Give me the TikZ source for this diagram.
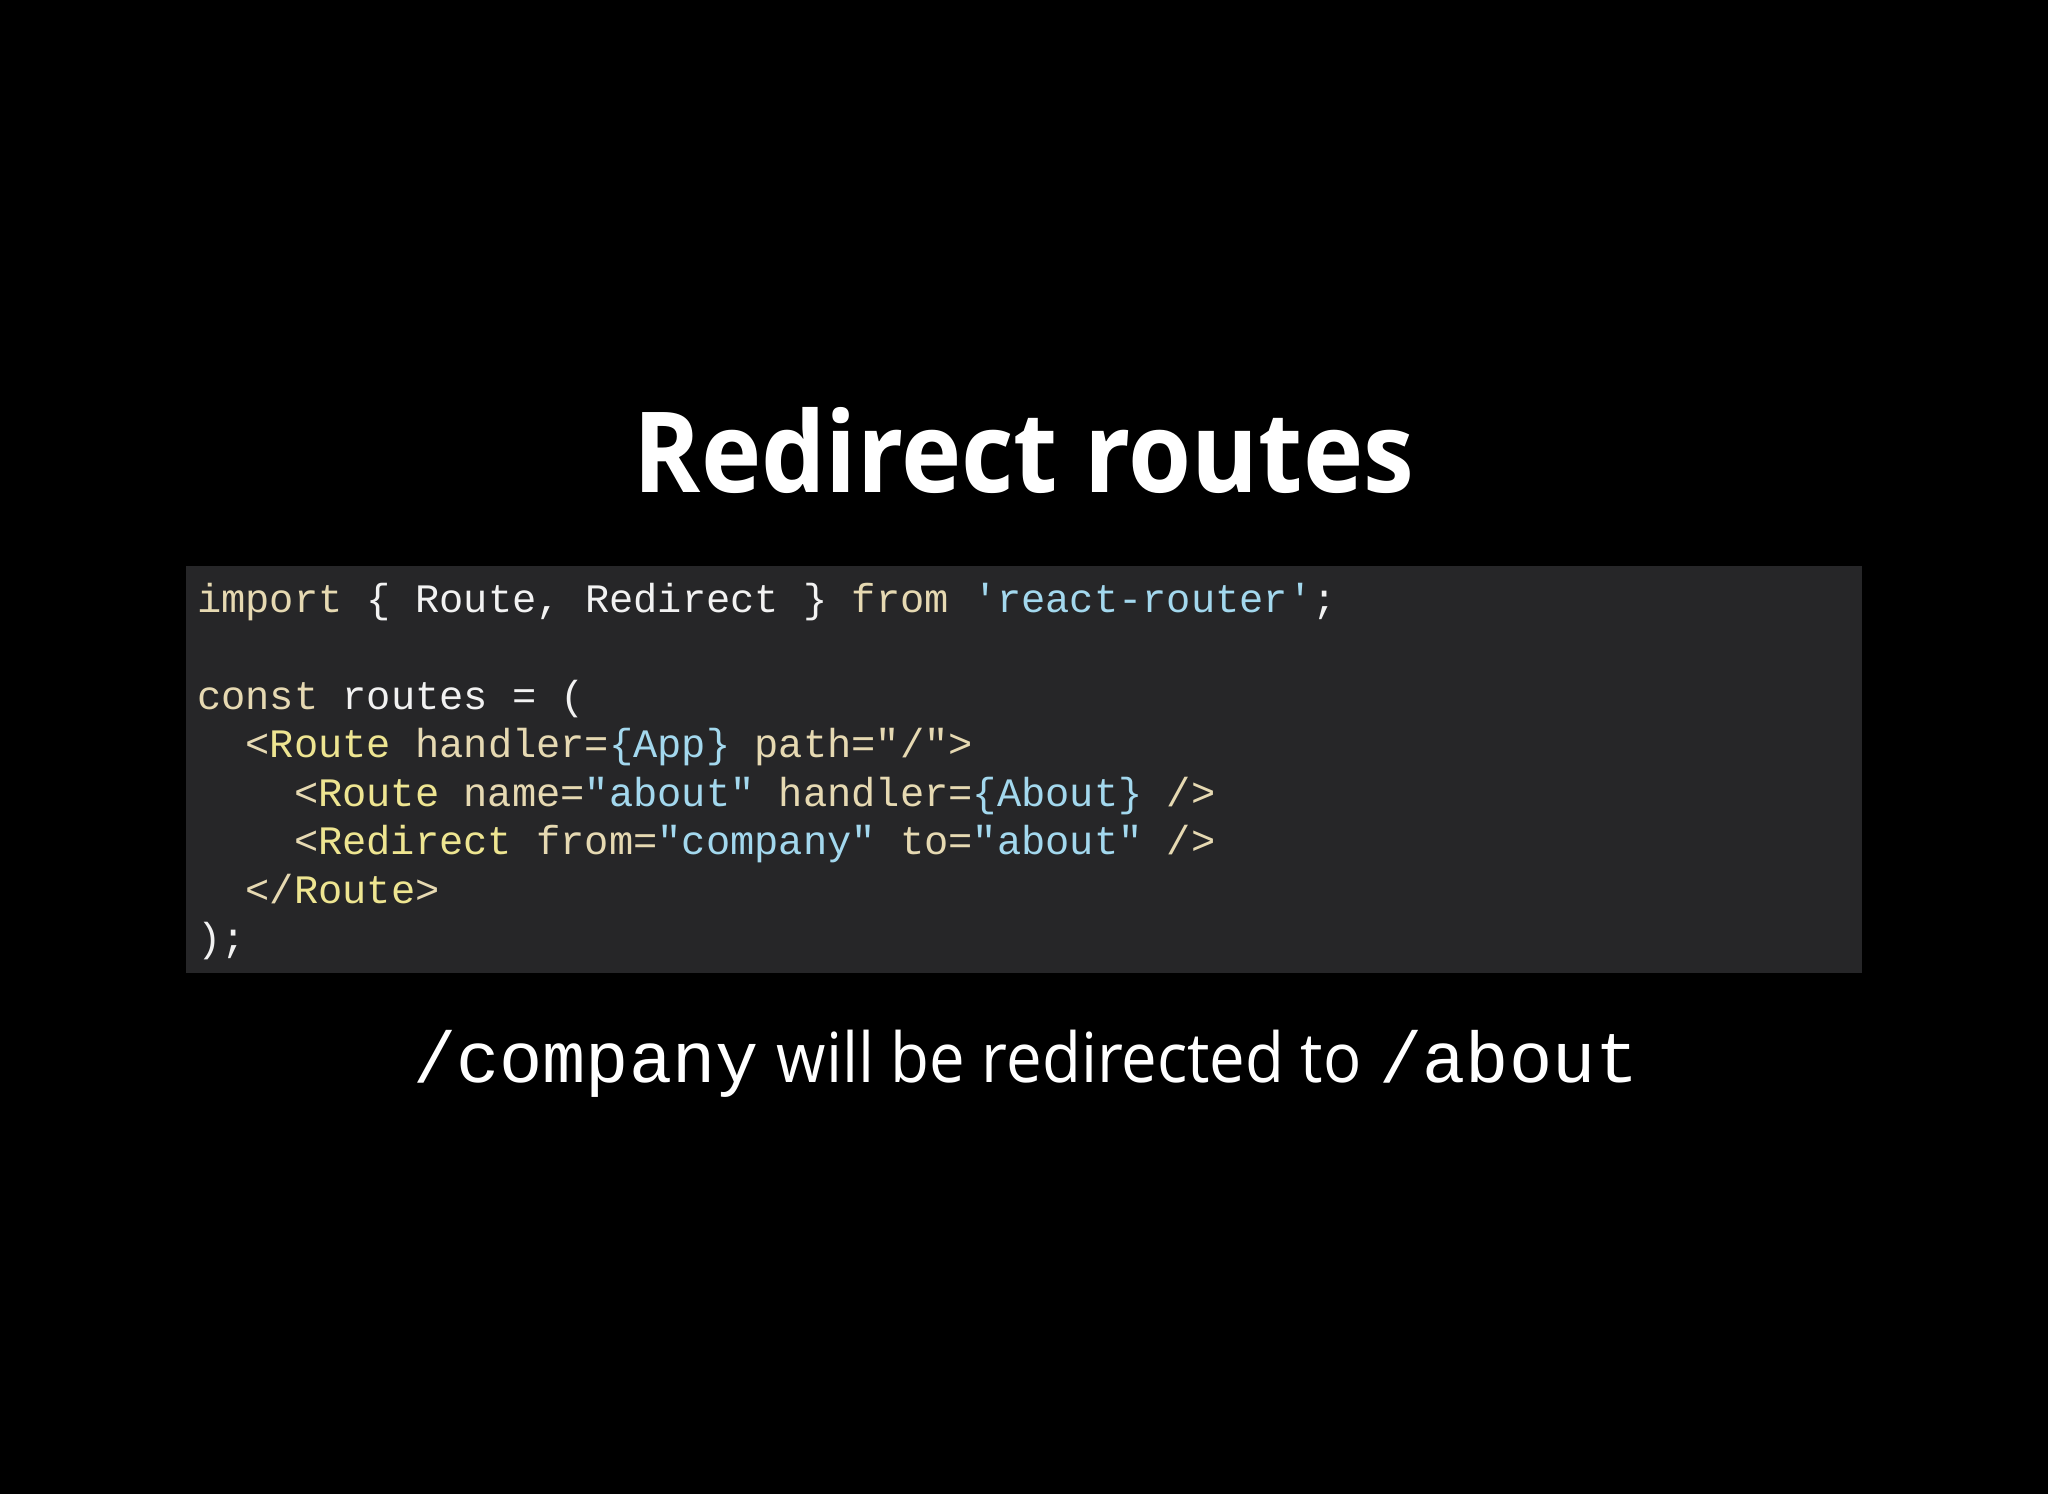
\documentclass[tikz,border=0pt]{standalone}
\usepackage{fontspec}
\setmainfont{Open Sans}
\newfontfamily\codefont{Liberation Mono}
\definecolor{kw}{HTML}{E6D9B2}
\definecolor{tg}{HTML}{EEE591}
\definecolor{st}{HTML}{A3D8EE}
\definecolor{pl}{HTML}{F2F2F2}
\definecolor{box}{HTML}{262628}
\newcommand{\K}[1]{\textcolor{kw}{#1}}
\newcommand{\T}[1]{\textcolor{tg}{#1}}
\newcommand{\Sg}[1]{\textcolor{st}{#1}}
\begin{document}
\begin{tikzpicture}[x=1pt,y=-1pt,
  code/.style={anchor=base west,inner sep=0,text=pl,font=\codefont\fontsize{40.4}{48}\selectfont}]
\fill[black] (0,0) rectangle (2048,1494);
\useasboundingbox (0,0) rectangle (2048,1494);
\fill[box] (186,566) rectangle (1862,973);
\node[anchor=base,inner sep=0,text=white,font=\fontsize{112}{120}\selectfont\bfseries] (title) at (1024,492) {\scalebox{0.91}[1]{Redirect routes}};
\node[code] (l1) at (197,612) {\K{import} \{ Route, Redirect \} \K{from} \Sg{'react-router'};};
\node[code] (l3) at (197,709) {\K{const} routes = (};
\node[code] (l4) at (245.4,757.5) {\K{<}\T{Route} \K{handler=}\Sg{\{App\}} \K{path="/">}};
\node[code] (l5) at (293.8,806) {\K{<}\T{Route} \K{name=}\Sg{"about"} \K{handler=}\Sg{\{About\}} \K{/>}};
\node[code] (l6) at (293.8,854.5) {\K{<}\T{Redirect} \K{from=}\Sg{"company"} \K{to=}\Sg{"about"} \K{/>}};
\node[code] (l7) at (245.4,903) {\K{</}\T{Route}\K{>}};
\node[code] (l8) at (197,951.5) {);};
\node[anchor=base,inner sep=0,text=white,font=\fontsize{69}{75}\selectfont] (sub) at (1026,1082)
  {{\codefont\fontsize{72}{80}\selectfont /company} \scalebox{0.92}[1]{will be redirected to} {\codefont\fontsize{72}{80}\selectfont /about}};
\end{tikzpicture}
\end{document}
